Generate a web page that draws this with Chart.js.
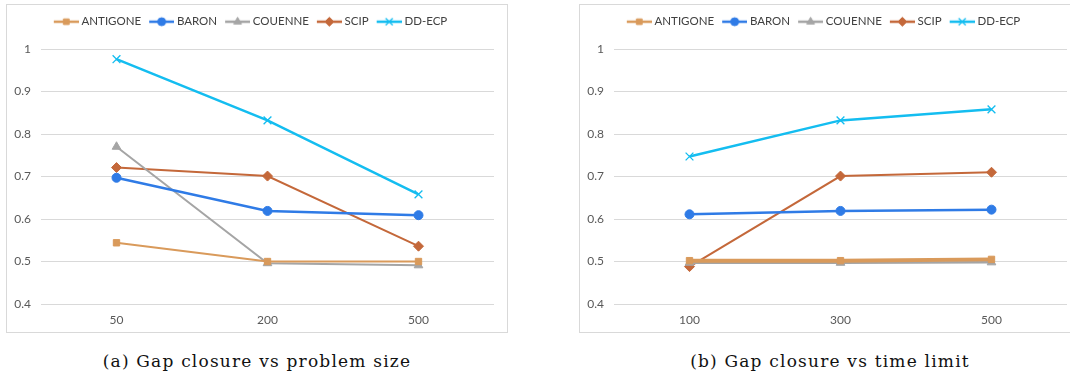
<!DOCTYPE html>
<html>
<head>
<meta charset="utf-8">
<script src="https://cdn.jsdelivr.net/npm/chart.js@4.4.0/dist/chart.umd.min.js"></script>
<style>
  body { margin: 0; background: #fff; width: 1070px; height: 376px; overflow: hidden; position: relative; }
  .box { position: absolute; top: 4px; height: 329px; border: 1px solid #d9d9d9; box-sizing: border-box; }
  .box canvas { position: absolute; left: 0; top: 0; }
  .cap { position: absolute; top: 351px; font-family: "DejaVu Serif", serif; font-size: 17px; letter-spacing: 1.2px; color: #111; text-align: center; width: 502px; }
</style>
</head>
<body>
<div class="box" id="boxA" style="left:6px;width:502px"><canvas id="chartA"></canvas></div>
<div class="box" id="boxB" style="left:579px;width:502px"><canvas id="chartB"></canvas></div>
<div class="cap" style="left:6px">(a) Gap closure vs problem size</div>
<div class="cap" style="left:579px">(b) Gap closure vs time limit</div>
<script>
// data
const sizeLabels = ["50", "200", "500"];
const timeLabels = ["100", "300", "500"];
const solvers = ["ANTIGONE", "BARON", "COUENNE", "SCIP", "DD-ECP"];

// (a) gap closure vs problem size
const sizeAntigone = [0.544, 0.500, 0.500];
const sizeBaron    = [0.697, 0.619, 0.609];
const sizeCouenne  = [0.770, 0.496, 0.491];
const sizeScip     = [0.721, 0.701, 0.536];
const sizeDdecp    = [0.976, 0.832, 0.658];

// (b) gap closure vs time limit
const timeAntigone = [0.502, 0.502, 0.505];
const timeBaron    = [0.611, 0.619, 0.622];
const timeCouenne  = [0.497, 0.497, 0.498];
const timeScip     = [0.488, 0.701, 0.710];
const timeDdecp    = [0.747, 0.832, 0.858];

const yTicks = [0.4, 0.5, 0.6, 0.7, 0.8, 0.9, 1];

const colors = ["#d99a5b", "#2f7be6", "#a5a5a5", "#c4683a", "#14bdf0"];
const markers = ["rect", "circle", "triangle", "rectRot", "crossRot"];
const markerSize = [4.5, 4.5, 5, 5, 5.5];

// legend swatch: line with marker on it
const SW_BOX = 22;
function swatch(i) {
  const c = document.createElement("canvas");
  c.width = SW_BOX + 6; c.height = 12;
  const ctx = c.getContext("2d");
  ctx.strokeStyle = colors[i];
  ctx.fillStyle = colors[i];
  ctx.lineWidth = 2.5;
  ctx.beginPath(); ctx.moveTo(3, 6); ctx.lineTo(28, 6); ctx.stroke();
  ctx.lineWidth = markers[i] === "crossRot" ? 1.3 : 1;
  Chart.helpers.drawPoint(ctx, { pointStyle: markers[i], radius: markerSize[i] - 0.5, rotation: 0, borderWidth: ctx.lineWidth }, 15.5, 6);
  return c;
}
const swatches = solvers.map((s, i) => swatch(i));

// fixed legend height so the plot area lands where it should
const legendHeight = {
  id: "legendHeight",
  beforeInit(chart) {
    const fit = chart.legend.fit;
    chart.legend.fit = function () { fit.call(this); this.height = 41; };
  }
};

function makeChart(id, labels, series, widths) {
  const canvas = document.getElementById(id);
  canvas.width = 502; canvas.height = 329;
  canvas.style.width = "502px"; canvas.style.height = "329px";

  return new Chart(canvas, {
    type: "line",
    data: {
      labels,
      datasets: series.map((d, i) => ({
        label: solvers[i],
        data: d,
        borderColor: colors[i],
        backgroundColor: colors[i],
        borderWidth: widths[i],
        pointStyle: markers[i],
        pointRadius: markerSize[i],
        pointBorderWidth: markers[i] === "crossRot" ? 1.3 : 1,
        pointBorderColor: colors[i],
        pointBackgroundColor: colors[i],
        tension: 0,
        fill: false,
      }))
    },
    plugins: [legendHeight],
    options: {
      responsive: false,
      animation: false,
      layout: { padding: { left: 0, right: 15, top: 3, bottom: 0 } },
      plugins: {
        tooltip: { enabled: false },
        legend: {
          position: "top",
          labels: {
            usePointStyle: true,
            pointStyleWidth: SW_BOX,
            padding: 8,
            color: "#404040",
            font: { family: "Lato", size: 11.5 },
            generateLabels: chart => chart.data.datasets.map((ds, i) => ({
              text: ds.label,
              pointStyle: swatches[i],
              fillStyle: colors[i],
              strokeStyle: colors[i],
              lineWidth: 0,
              hidden: false,
              datasetIndex: i,
              fontColor: "#404040",
            })),
          }
        }
      },
      scales: {
        x: {
          offset: true,
          grid: { display: false, drawTicks: false },
          border: { display: false },
          ticks: { color: "#595959", font: { family: "Lato", size: 12 }, padding: 9 },
          afterFit: s => { s.height = 30; },
        },
        y: {
          min: 0.4, max: 1,
          afterBuildTicks: s => { s.ticks = yTicks.map(v => ({ value: v })); },
          grid: { color: "#d9d9d9", lineWidth: 1, drawTicks: false },
          border: { display: false },
          ticks: {
            color: "#595959", font: { family: "Lato", size: 12 }, padding: 10,
            callback: v => String(+v.toFixed(1)),
          },
          afterFit: s => { s.width = 34; },
        }
      }
    }
  });
}

makeChart("chartA", sizeLabels,
  [sizeAntigone, sizeBaron, sizeCouenne, sizeScip, sizeDdecp],
  [2, 2.5, 2, 2, 2.5]);
makeChart("chartB", timeLabels,
  [timeAntigone, timeBaron, timeCouenne, timeScip, timeDdecp],
  [4, 2.5, 2.5, 2, 2.5]);
</script>
</body>
</html>
